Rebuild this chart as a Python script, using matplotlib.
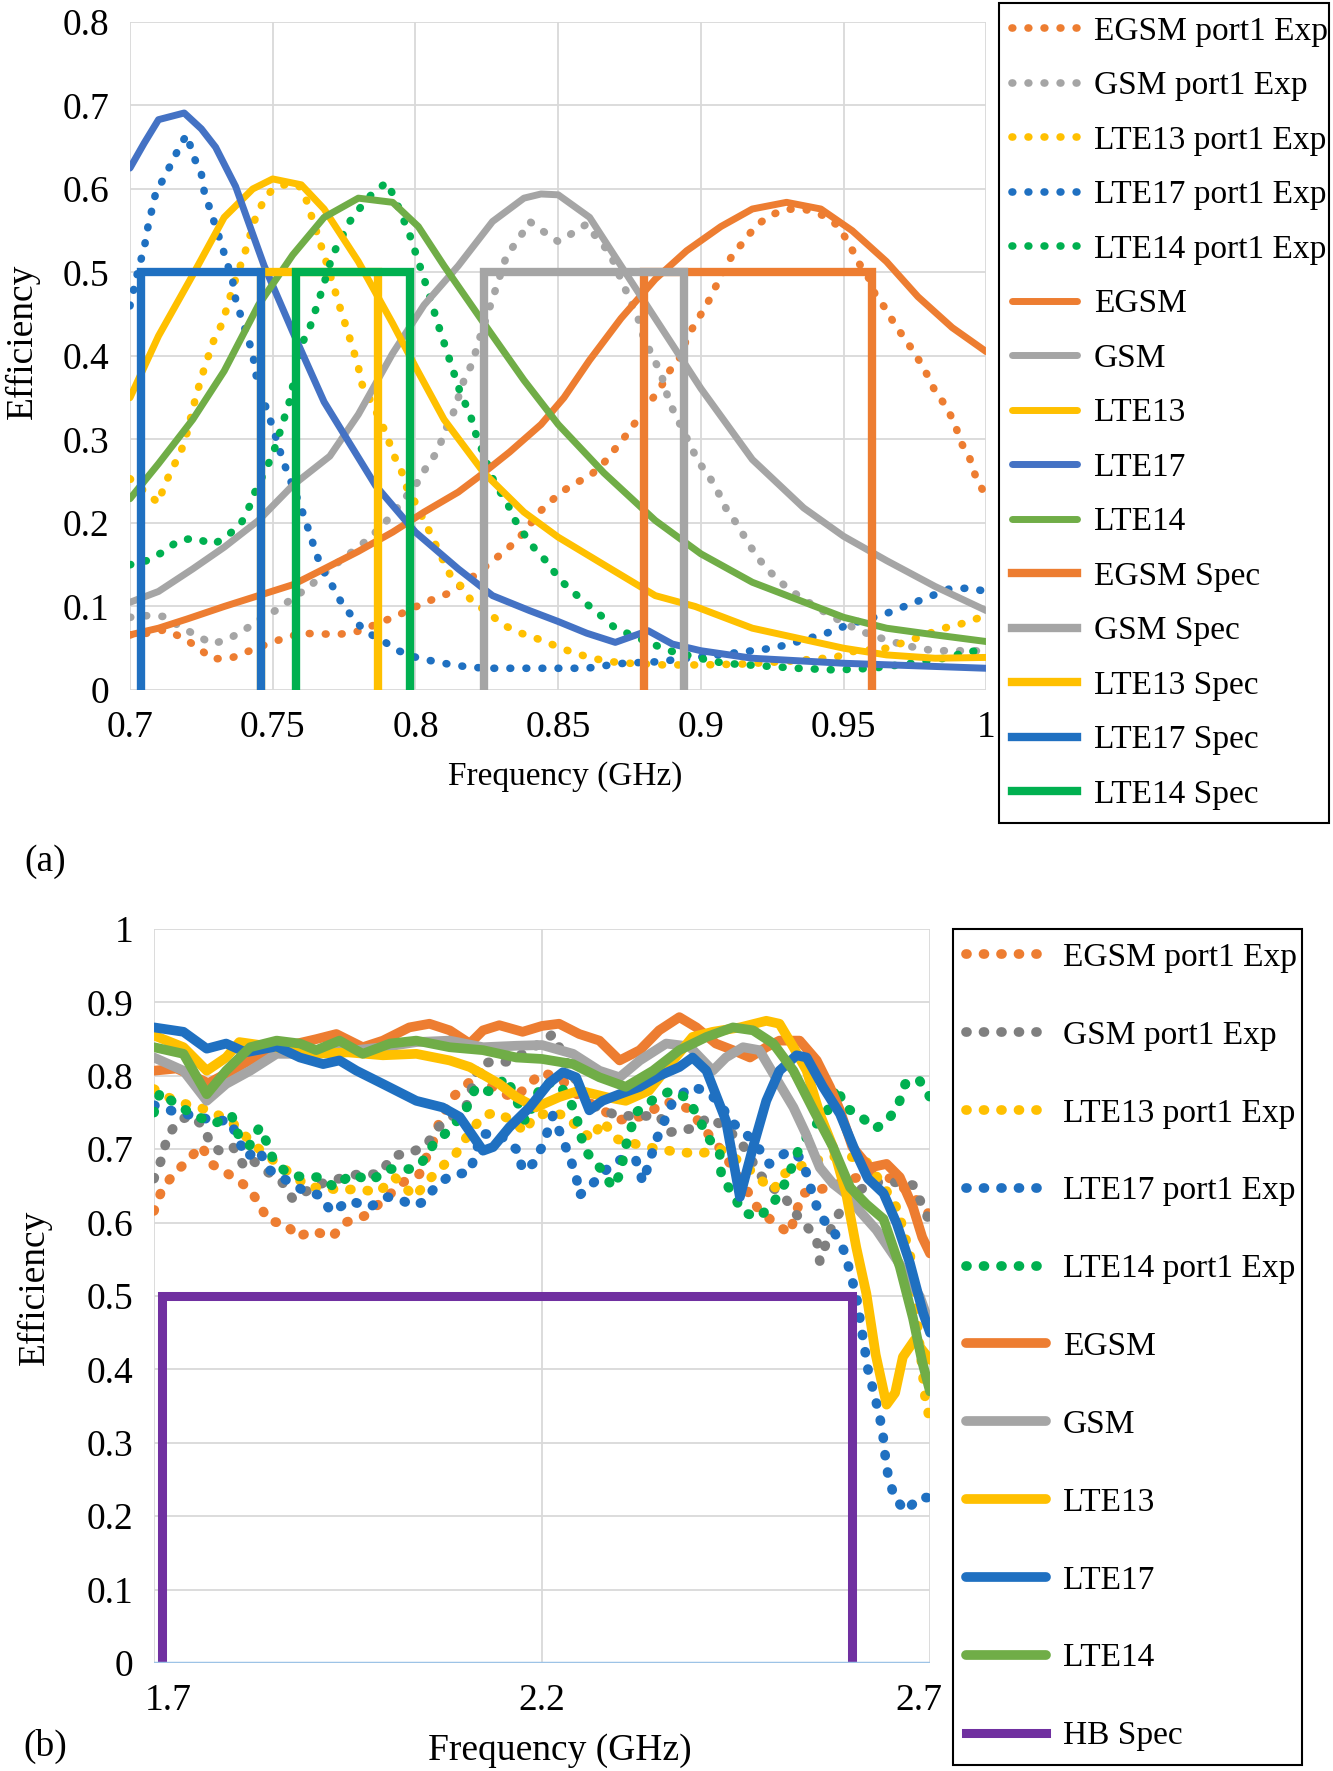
import numpy as np
import matplotlib
matplotlib.use('Agg')
import matplotlib.pyplot as plt
from matplotlib.transforms import ScaledTranslation

plt.rcParams['font.family'] = ['Liberation Serif', 'DejaVu Serif']

# ---------------- (a) low band, 0.7 - 1 GHz ----------------
egsm_exp_a = [(0.700, 0.066), (0.706, 0.068), (0.712, 0.072), (0.719, 0.062), (0.724, 0.050), (0.729, 0.037),
              (0.736, 0.039), (0.742, 0.047), (0.748, 0.055), (0.754, 0.062), (0.760, 0.068), (0.767, 0.067),
              (0.774, 0.067), (0.781, 0.071), (0.787, 0.080), (0.793, 0.088), (0.799, 0.098), (0.805, 0.107),
              (0.811, 0.115), (0.816, 0.125), (0.821, 0.138), (0.826, 0.152), (0.832, 0.168), (0.837, 0.185),
              (0.844, 0.215), (0.850, 0.234), (0.855, 0.246), (0.861, 0.256), (0.866, 0.272), (0.870, 0.289),
              (0.874, 0.306), (0.878, 0.325), (0.882, 0.344), (0.886, 0.363), (0.889, 0.382), (0.893, 0.400),
              (0.895, 0.421), (0.898, 0.439), (0.902, 0.461), (0.905, 0.482), (0.911, 0.521), (0.915, 0.537),
              (0.919, 0.555), (0.924, 0.568), (0.930, 0.576), (0.937, 0.575), (0.943, 0.568), (0.948, 0.556),
              (0.952, 0.534), (0.955, 0.513), (0.959, 0.492), (0.961, 0.474), (0.965, 0.455), (0.968, 0.437),
              (0.972, 0.418), (0.976, 0.397), (0.979, 0.379), (0.982, 0.358), (0.986, 0.339), (0.989, 0.318),
              (0.991, 0.297), (0.994, 0.279), (0.996, 0.258), (0.999, 0.237)]
gsm_exp_a = [(0.700, 0.087), (0.706, 0.089), (0.712, 0.088), (0.718, 0.075), (0.723, 0.066), (0.729, 0.055),
             (0.735, 0.062), (0.741, 0.074), (0.746, 0.086), (0.752, 0.097), (0.757, 0.110), (0.763, 0.124),
             (0.768, 0.140), (0.773, 0.153), (0.778, 0.166), (0.784, 0.182), (0.790, 0.203), (0.795, 0.224),
             (0.801, 0.250), (0.804, 0.268), (0.808, 0.287), (0.810, 0.308), (0.813, 0.329), (0.817, 0.371),
             (0.820, 0.392), (0.822, 0.416), (0.826, 0.458), (0.828, 0.479), (0.832, 0.521), (0.836, 0.539),
             (0.840, 0.561), (0.844, 0.551), (0.850, 0.537), (0.854, 0.545), (0.860, 0.558), (0.864, 0.539),
             (0.868, 0.524), (0.873, 0.484), (0.878, 0.445), (0.880, 0.421), (0.883, 0.400), (0.886, 0.379),
             (0.888, 0.355), (0.890, 0.337), (0.893, 0.316), (0.896, 0.295), (0.899, 0.274), (0.903, 0.255),
             (0.906, 0.237), (0.909, 0.216), (0.913, 0.197), (0.916, 0.179), (0.920, 0.158), (0.924, 0.142),
             (0.929, 0.126), (0.934, 0.113), (0.940, 0.100), (0.946, 0.088), (0.952, 0.077), (0.958, 0.068),
             (0.964, 0.061), (0.970, 0.055), (0.976, 0.050), (0.982, 0.047), (0.989, 0.047), (0.996, 0.047),
             (1.000, 0.046)]
lte13_exp_a = [(0.700, 0.253), (0.705, 0.238), (0.710, 0.224), (0.712, 0.245), (0.715, 0.266), (0.718, 0.287),
               (0.720, 0.308), (0.723, 0.350), (0.725, 0.374), (0.727, 0.395), (0.729, 0.416), (0.732, 0.437),
               (0.734, 0.458), (0.736, 0.482), (0.740, 0.521), (0.744, 0.566), (0.747, 0.587), (0.750, 0.600),
               (0.755, 0.606), (0.759, 0.605), (0.762, 0.585), (0.764, 0.563), (0.768, 0.521), (0.772, 0.476),
               (0.774, 0.453), (0.776, 0.432), (0.778, 0.410), (0.780, 0.387), (0.781, 0.368), (0.786, 0.335),
               (0.790, 0.305), (0.792, 0.284), (0.795, 0.263), (0.797, 0.242), (0.800, 0.224), (0.803, 0.203),
               (0.806, 0.182), (0.809, 0.160), (0.812, 0.139), (0.816, 0.124), (0.820, 0.105), (0.826, 0.092),
               (0.830, 0.079), (0.837, 0.068), (0.843, 0.061), (0.849, 0.053), (0.855, 0.045), (0.862, 0.038),
               (0.868, 0.034), (0.875, 0.032), (0.887, 0.030), (0.900, 0.030), (0.914, 0.031), (0.929, 0.034),
               (0.947, 0.039), (0.953, 0.046), (0.965, 0.050), (0.972, 0.058), (0.985, 0.074), (0.991, 0.079),
               (0.998, 0.087)]
lte17_exp_a = [(0.700, 0.460), (0.703, 0.505), (0.705, 0.529), (0.706, 0.550), (0.709, 0.595), (0.712, 0.614),
               (0.715, 0.634), (0.718, 0.655), (0.720, 0.665), (0.722, 0.641), (0.725, 0.618), (0.726, 0.597),
               (0.728, 0.576), (0.732, 0.534), (0.736, 0.489), (0.737, 0.468), (0.739, 0.446), (0.743, 0.403),
               (0.744, 0.379), (0.748, 0.334), (0.750, 0.315), (0.752, 0.292), (0.754, 0.271), (0.756, 0.253),
               (0.761, 0.208), (0.763, 0.187), (0.765, 0.166), (0.767, 0.147), (0.771, 0.124), (0.774, 0.105),
               (0.778, 0.087), (0.782, 0.071), (0.789, 0.058), (0.794, 0.047), (0.801, 0.038), (0.807, 0.034),
               (0.813, 0.030), (0.820, 0.027), (0.827, 0.026), (0.840, 0.026), (0.853, 0.026), (0.860, 0.026),
               (0.866, 0.029), (0.873, 0.032), (0.886, 0.034), (0.892, 0.037), (0.899, 0.039), (0.918, 0.047),
               (0.925, 0.050), (0.931, 0.055), (0.944, 0.068), (0.950, 0.076), (0.957, 0.084), (0.963, 0.089),
               (0.969, 0.097), (0.975, 0.105), (0.981, 0.113), (0.987, 0.121), (0.994, 0.122), (1.000, 0.118)]
lte14_exp_a = [(0.700, 0.150), (0.706, 0.155), (0.712, 0.166), (0.717, 0.179), (0.723, 0.182), (0.729, 0.174),
               (0.734, 0.184), (0.739, 0.200), (0.742, 0.221), (0.744, 0.239), (0.747, 0.260), (0.750, 0.282),
               (0.752, 0.303), (0.756, 0.347), (0.760, 0.413), (0.763, 0.434), (0.765, 0.455), (0.767, 0.476),
               (0.771, 0.521), (0.777, 0.561), (0.781, 0.579), (0.785, 0.595), (0.790, 0.608), (0.793, 0.587),
               (0.798, 0.545), (0.800, 0.524), (0.802, 0.503), (0.804, 0.482), (0.808, 0.437), (0.810, 0.416),
               (0.812, 0.395), (0.814, 0.374), (0.816, 0.353), (0.819, 0.332), (0.821, 0.308), (0.828, 0.245),
               (0.832, 0.226), (0.834, 0.208), (0.838, 0.187), (0.842, 0.168), (0.847, 0.150), (0.850, 0.134),
               (0.855, 0.118), (0.860, 0.103), (0.865, 0.089), (0.870, 0.074), (0.883, 0.055), (0.889, 0.047),
               (0.901, 0.037), (0.908, 0.032), (0.921, 0.029), (0.934, 0.026), (0.947, 0.024), (0.960, 0.026),
               (0.974, 0.032), (0.987, 0.039), (0.993, 0.046), (1.000, 0.047)]

egsm_a = [(0.700, 0.066), (0.710, 0.074), (0.720, 0.085), (0.733, 0.100), (0.745, 0.113), (0.757, 0.126),
          (0.768, 0.145), (0.780, 0.166), (0.792, 0.189), (0.803, 0.213), (0.815, 0.237), (0.822, 0.255),
          (0.833, 0.285), (0.844, 0.318), (0.852, 0.350), (0.861, 0.395), (0.872, 0.445), (0.884, 0.492),
          (0.895, 0.526), (0.907, 0.555), (0.918, 0.576), (0.930, 0.584), (0.942, 0.576), (0.953, 0.550),
          (0.965, 0.513), (0.976, 0.471), (0.988, 0.434), (1.000, 0.405)]
gsm_a = [(0.700, 0.105), (0.710, 0.118), (0.722, 0.145), (0.733, 0.171), (0.745, 0.203), (0.757, 0.245),
         (0.770, 0.280), (0.780, 0.330), (0.792, 0.403), (0.803, 0.461), (0.815, 0.508), (0.827, 0.561),
         (0.838, 0.589), (0.844, 0.594), (0.850, 0.593), (0.861, 0.566), (0.872, 0.508), (0.884, 0.445),
         (0.900, 0.361), (0.918, 0.276), (0.936, 0.218), (0.950, 0.184), (0.965, 0.155), (0.982, 0.124),
         (1.000, 0.095)]
lte13_a = [(0.700, 0.350), (0.710, 0.424), (0.722, 0.497), (0.733, 0.566), (0.743, 0.600), (0.750, 0.612),
           (0.760, 0.605), (0.768, 0.576), (0.780, 0.513), (0.792, 0.439), (0.800, 0.387), (0.810, 0.324),
           (0.824, 0.260), (0.838, 0.213), (0.850, 0.183), (0.866, 0.150), (0.884, 0.113), (0.898, 0.100),
           (0.918, 0.074), (0.950, 0.050), (0.965, 0.042), (0.982, 0.038), (1.000, 0.039)]
lte17_a = [(0.700, 0.625), (0.705, 0.655), (0.710, 0.683), (0.719, 0.691), (0.725, 0.672), (0.730, 0.650),
           (0.737, 0.603), (0.747, 0.508), (0.757, 0.429), (0.768, 0.345), (0.786, 0.245), (0.800, 0.189),
           (0.815, 0.145), (0.827, 0.113), (0.840, 0.095), (0.850, 0.082), (0.860, 0.068), (0.870, 0.057),
           (0.8815, 0.071), (0.890, 0.055), (0.900, 0.047), (0.918, 0.038), (0.950, 0.032), (1.000, 0.026)]
lte14_a = [(0.700, 0.229), (0.710, 0.271), (0.722, 0.324), (0.733, 0.382), (0.745, 0.461), (0.757, 0.521),
           (0.768, 0.566), (0.780, 0.589), (0.792, 0.584), (0.801, 0.555), (0.810, 0.508), (0.824, 0.439),
           (0.838, 0.371), (0.850, 0.318), (0.866, 0.260), (0.884, 0.203), (0.900, 0.163), (0.918, 0.129),
           (0.950, 0.087), (0.965, 0.074), (0.982, 0.066), (1.000, 0.058)]

spec_level = 0.5
spec_names_a = ['EGSM Spec', 'GSM Spec', 'LTE13 Spec', 'LTE17 Spec', 'LTE14 Spec']
spec_bands_a = [(0.880, 0.960), (0.824, 0.894), (0.746, 0.787), (0.704, 0.746), (0.758, 0.798)]

xticks_a = [0.7, 0.75, 0.8, 0.85, 0.9, 0.95, 1.0]
xlabels_a = ['0.7', '0.75', '0.8', '0.85', '0.9', '0.95', '1']
yticks_a = [0, 0.1, 0.2, 0.3, 0.4, 0.5, 0.6, 0.7, 0.8]
ylabels_a = ['0', '0.1', '0.2', '0.3', '0.4', '0.5', '0.6', '0.7', '0.8']

# ---------------- (b) high band, 1.7 - 2.7 GHz ----------------
egsm_exp_b = [(1.700, 0.616), (1.710, 0.644), (1.725, 0.666), (1.744, 0.685), (1.761, 0.705), (1.774, 0.680),
              (1.790, 0.670), (1.805, 0.660), (1.823, 0.646), (1.836, 0.625), (1.847, 0.603), (1.860, 0.600),
              (1.871, 0.598), (1.884, 0.580), (1.905, 0.589), (1.929, 0.580), (1.946, 0.600), (1.971, 0.609),
              (1.995, 0.630), (2.021, 0.655), (2.042, 0.666), (2.051, 0.689), (2.062, 0.716), (2.068, 0.739),
              (2.085, 0.771), (2.105, 0.790), (2.120, 0.805), (2.140, 0.780), (2.165, 0.770), (2.185, 0.790),
              (2.200, 0.805), (2.225, 0.795), (2.250, 0.770), (2.275, 0.755), (2.300, 0.740), (2.330, 0.745),
              (2.360, 0.765), (2.390, 0.755), (2.407, 0.730), (2.430, 0.700), (2.455, 0.660), (2.480, 0.616),
              (2.502, 0.598), (2.519, 0.585), (2.528, 0.616), (2.536, 0.640), (2.554, 0.644), (2.575, 0.650),
              (2.600, 0.660), (2.625, 0.665), (2.650, 0.660), (2.675, 0.640), (2.700, 0.610)]
gsm_exp_b = [(1.700, 0.660), (1.710, 0.687), (1.717, 0.716), (1.731, 0.739), (1.748, 0.746), (1.763, 0.732),
             (1.774, 0.705), (1.787, 0.696), (1.802, 0.703), (1.817, 0.675), (1.828, 0.684), (1.845, 0.670),
             (1.864, 0.657), (1.879, 0.632), (1.900, 0.645), (1.920, 0.655), (1.939, 0.660), (1.963, 0.666),
             (1.991, 0.666), (2.008, 0.691), (2.030, 0.695), (2.051, 0.705), (2.064, 0.728), (2.085, 0.745),
             (2.102, 0.757), (2.110, 0.785), (2.119, 0.816), (2.140, 0.820), (2.156, 0.819), (2.175, 0.830),
             (2.203, 0.848), (2.214, 0.857), (2.240, 0.800), (2.265, 0.760), (2.296, 0.746), (2.325, 0.745),
             (2.351, 0.746), (2.364, 0.723), (2.392, 0.728), (2.416, 0.744), (2.435, 0.730), (2.455, 0.712),
             (2.482, 0.664), (2.497, 0.648), (2.515, 0.631), (2.527, 0.612), (2.545, 0.590), (2.554, 0.576),
             (2.558, 0.547), (2.575, 0.600), (2.600, 0.640), (2.630, 0.655), (2.660, 0.655), (2.678, 0.651),
             (2.689, 0.626), (2.700, 0.600)]
lte13_exp_b = [(1.700, 0.782), (1.720, 0.770), (1.745, 0.760), (1.772, 0.753), (1.802, 0.735), (1.830, 0.705),
               (1.862, 0.678), (1.900, 0.648), (1.920, 0.648), (1.939, 0.644), (1.963, 0.646), (1.989, 0.641),
               (2.010, 0.662), (2.036, 0.635), (2.051, 0.655), (2.070, 0.675), (2.089, 0.694), (2.105, 0.720),
               (2.124, 0.746), (2.141, 0.750), (2.160, 0.740), (2.179, 0.723), (2.188, 0.744), (2.210, 0.750),
               (2.231, 0.746), (2.250, 0.725), (2.265, 0.714), (2.278, 0.739), (2.296, 0.714), (2.321, 0.707),
               (2.350, 0.700), (2.377, 0.696), (2.403, 0.694), (2.430, 0.700), (2.460, 0.680), (2.480, 0.660),
               (2.498, 0.644), (2.511, 0.666), (2.540, 0.680), (2.570, 0.690), (2.614, 0.689), (2.640, 0.650),
               (2.660, 0.615), (2.665, 0.590), (2.674, 0.560), (2.685, 0.450), (2.694, 0.358), (2.700, 0.330)]
lte17_exp_b = [(1.700, 0.760), (1.730, 0.750), (1.755, 0.745), (1.776, 0.739), (1.798, 0.739), (1.819, 0.689),
               (1.835, 0.700), (1.847, 0.673), (1.875, 0.655), (1.892, 0.644), (1.914, 0.637), (1.929, 0.614),
               (1.952, 0.630), (1.978, 0.621), (2.000, 0.635), (2.016, 0.632), (2.034, 0.623), (2.047, 0.628),
               (2.062, 0.648), (2.081, 0.664), (2.107, 0.669), (2.122, 0.721), (2.145, 0.720), (2.169, 0.698),
               (2.175, 0.671), (2.188, 0.680), (2.201, 0.705), (2.214, 0.746), (2.225, 0.718), (2.235, 0.691),
               (2.244, 0.664), (2.248, 0.637), (2.262, 0.650), (2.274, 0.662), (2.290, 0.680), (2.308, 0.689),
               (2.321, 0.685), (2.330, 0.655), (2.339, 0.685), (2.347, 0.712), (2.358, 0.739), (2.369, 0.766),
               (2.392, 0.785), (2.410, 0.780), (2.429, 0.764), (2.442, 0.739), (2.463, 0.721), (2.480, 0.700),
               (2.493, 0.680), (2.518, 0.698), (2.532, 0.689), (2.543, 0.662), (2.549, 0.635), (2.560, 0.607),
               (2.575, 0.590), (2.590, 0.560), (2.605, 0.500), (2.620, 0.400), (2.634, 0.341), (2.639, 0.314),
               (2.642, 0.284), (2.646, 0.255), (2.654, 0.226), (2.668, 0.207), (2.687, 0.226), (2.700, 0.225)]
lte14_exp_b = [(1.700, 0.750), (1.708, 0.778), (1.730, 0.760), (1.755, 0.745), (1.778, 0.735), (1.800, 0.746),
               (1.810, 0.716), (1.823, 0.705), (1.836, 0.730), (1.845, 0.710), (1.854, 0.685), (1.873, 0.666),
               (1.892, 0.662), (1.914, 0.662), (1.933, 0.648), (1.954, 0.666), (1.980, 0.657), (2.001, 0.673),
               (2.021, 0.673), (2.034, 0.673), (2.044, 0.680), (2.059, 0.705), (2.079, 0.725), (2.100, 0.750),
               (2.115, 0.785), (2.134, 0.778), (2.154, 0.798), (2.170, 0.760), (2.179, 0.737), (2.200, 0.790),
               (2.222, 0.790), (2.244, 0.750), (2.248, 0.723), (2.259, 0.694), (2.276, 0.673), (2.291, 0.648),
               (2.302, 0.669), (2.306, 0.698), (2.321, 0.750), (2.345, 0.769), (2.367, 0.780), (2.388, 0.769),
               (2.401, 0.744), (2.414, 0.716), (2.429, 0.694), (2.431, 0.664), (2.445, 0.640), (2.459, 0.614),
               (2.480, 0.607), (2.500, 0.630), (2.515, 0.657), (2.532, 0.703), (2.550, 0.730), (2.567, 0.750),
               (2.580, 0.785), (2.590, 0.757), (2.607, 0.748), (2.629, 0.728), (2.644, 0.737), (2.659, 0.760),
               (2.668, 0.789), (2.685, 0.796), (2.700, 0.771)]

egsm_b = [(1.700, 0.807), (1.729, 0.810), (1.750, 0.800), (1.770, 0.790), (1.800, 0.807), (1.823, 0.821),
          (1.860, 0.838), (1.909, 0.850), (1.935, 0.857), (1.969, 0.839), (1.995, 0.848), (2.029, 0.866),
          (2.055, 0.871), (2.081, 0.862), (2.107, 0.844), (2.124, 0.862), (2.145, 0.869), (2.175, 0.860),
          (2.200, 0.868), (2.222, 0.871), (2.248, 0.857), (2.274, 0.848), (2.300, 0.821), (2.326, 0.835),
          (2.351, 0.862), (2.377, 0.880), (2.399, 0.866), (2.424, 0.844), (2.446, 0.835), (2.468, 0.825),
          (2.489, 0.839), (2.506, 0.848), (2.532, 0.848), (2.554, 0.821), (2.571, 0.785), (2.584, 0.753),
          (2.600, 0.703), (2.622, 0.675), (2.644, 0.680), (2.661, 0.662), (2.678, 0.621), (2.690, 0.580),
          (2.700, 0.558)]
gsm_b = [(1.700, 0.825), (1.738, 0.807), (1.768, 0.766), (1.793, 0.789), (1.824, 0.807), (1.858, 0.830),
         (1.888, 0.830), (1.918, 0.835), (1.960, 0.835), (1.995, 0.839), (2.038, 0.846), (2.081, 0.848),
         (2.124, 0.839), (2.167, 0.841), (2.200, 0.842), (2.240, 0.830), (2.274, 0.807), (2.300, 0.798),
         (2.326, 0.821), (2.360, 0.844), (2.390, 0.840), (2.420, 0.807), (2.437, 0.825), (2.459, 0.839),
         (2.480, 0.835), (2.498, 0.803), (2.524, 0.757), (2.540, 0.721), (2.558, 0.675), (2.575, 0.653),
         (2.592, 0.639), (2.610, 0.615), (2.631, 0.590), (2.660, 0.545), (2.687, 0.499), (2.700, 0.460)]
lte13_b = [(1.700, 0.855), (1.738, 0.839), (1.768, 0.807), (1.793, 0.825), (1.810, 0.846), (1.850, 0.840),
           (1.909, 0.830), (1.950, 0.832), (1.995, 0.828), (2.038, 0.830), (2.081, 0.821), (2.107, 0.812),
           (2.145, 0.789), (2.167, 0.771), (2.192, 0.757), (2.222, 0.771), (2.248, 0.780), (2.283, 0.771),
           (2.308, 0.766), (2.338, 0.780), (2.369, 0.821), (2.394, 0.853), (2.420, 0.860), (2.455, 0.866),
           (2.489, 0.875), (2.506, 0.871), (2.524, 0.839), (2.541, 0.807), (2.558, 0.748), (2.575, 0.703),
           (2.592, 0.639), (2.605, 0.566), (2.618, 0.503), (2.630, 0.420), (2.644, 0.352), (2.655, 0.368),
           (2.665, 0.417), (2.680, 0.440), (2.700, 0.413)]
lte17_b = [(1.700, 0.866), (1.738, 0.860), (1.768, 0.837), (1.793, 0.844), (1.818, 0.832), (1.858, 0.840),
           (1.888, 0.825), (1.918, 0.816), (1.939, 0.821), (1.961, 0.807), (1.995, 0.789), (2.038, 0.766),
           (2.072, 0.757), (2.094, 0.744), (2.124, 0.698), (2.137, 0.703), (2.158, 0.730), (2.184, 0.757),
           (2.209, 0.790), (2.227, 0.805), (2.244, 0.798), (2.261, 0.753), (2.278, 0.766), (2.300, 0.775),
           (2.326, 0.785), (2.351, 0.800), (2.377, 0.812), (2.394, 0.825), (2.412, 0.807), (2.437, 0.739),
           (2.455, 0.635), (2.472, 0.703), (2.489, 0.766), (2.506, 0.807), (2.528, 0.828), (2.541, 0.825),
           (2.562, 0.785), (2.584, 0.748), (2.605, 0.694), (2.620, 0.660), (2.640, 0.640), (2.657, 0.599),
           (2.674, 0.545), (2.691, 0.477), (2.700, 0.450)]
lte14_b = [(1.700, 0.839), (1.738, 0.830), (1.768, 0.775), (1.793, 0.807), (1.824, 0.839), (1.858, 0.848),
           (1.888, 0.844), (1.909, 0.835), (1.939, 0.848), (1.969, 0.830), (2.004, 0.844), (2.038, 0.848),
           (2.081, 0.839), (2.124, 0.835), (2.167, 0.825), (2.200, 0.823), (2.240, 0.816), (2.274, 0.798),
           (2.308, 0.785), (2.343, 0.807), (2.377, 0.835), (2.412, 0.853), (2.446, 0.866), (2.472, 0.862),
           (2.498, 0.844), (2.524, 0.807), (2.550, 0.753), (2.575, 0.703), (2.597, 0.648), (2.618, 0.625),
           (2.640, 0.605), (2.661, 0.540), (2.678, 0.470), (2.690, 0.410), (2.700, 0.370)]

hb_band = (1.71, 2.60)

xticks_b = [1.7, 2.2, 2.7]
xlabels_b = ['1.7', '2.2', '2.7']
yticks_b = [0, 0.1, 0.2, 0.3, 0.4, 0.5, 0.6, 0.7, 0.8, 0.9, 1.0]
ylabels_b = ['0', '0.1', '0.2', '0.3', '0.4', '0.5', '0.6', '0.7', '0.8', '0.9', '1']

# colours (Excel palette)
ORANGE = '#ED7D31'
GRAY = '#A5A5A5'
DGRAY = '#7F7F7F'
GOLD = '#FFC000'
BLUE = '#4472C4'
DBLUE = '#1F70C1'
GREEN = '#70AD47'
BGREEN = '#00B050'
PURPLE = '#7030A0'
GRID = '#D9D9D9'


def xy(points):
    x, y = zip(*points)
    return np.array(x), np.array(y)


def spec_path(lo, hi):
    return [lo, lo, hi, hi], [0, spec_level, spec_level, 0]


fig = plt.figure(figsize=(13.33, 17.71), dpi=100)
ax1 = fig.add_axes([0.0975, 0.6104, 0.6425, 0.3772])
ax2 = fig.add_axes([0.1155, 0.0610, 0.5822, 0.4144])

# ---- panel (a)
dot_a = dict(lw=5.5, linestyle=(0, (0.1, 2.0)), dash_capstyle='round')
sol_a = dict(lw=5, solid_capstyle='round', solid_joinstyle='round')
for pts, col, lab in [(egsm_exp_a, ORANGE, 'EGSM port1 Exp'), (gsm_exp_a, GRAY, 'GSM port1 Exp'),
                      (lte13_exp_a, GOLD, 'LTE13 port1 Exp'), (lte17_exp_a, DBLUE, 'LTE17 port1 Exp'),
                      (lte14_exp_a, BGREEN, 'LTE14 port1 Exp')]:
    ax1.plot(*xy(pts), color=col, label=lab, **dot_a)
for pts, col, lab in [(egsm_a, ORANGE, 'EGSM'), (gsm_a, GRAY, 'GSM'), (lte13_a, GOLD, 'LTE13'),
                      (lte17_a, BLUE, 'LTE17'), (lte14_a, GREEN, 'LTE14')]:
    ax1.plot(*xy(pts), color=col, label=lab, **sol_a)
for (lo, hi), col, lab in zip(spec_bands_a, [ORANGE, GRAY, GOLD, DBLUE, BGREEN], spec_names_a):
    ax1.plot(*spec_path(lo, hi), color=col, lw=6, label=lab, solid_joinstyle='miter')

ax1.set_xlim(0.7, 1.0)
ax1.set_ylim(0, 0.8)
ax1.set_xticks(xticks_a, xlabels_a)
ax1.set_yticks(yticks_a, ylabels_a)

# ---- panel (b)
dot_b = dict(lw=7, linestyle=(0, (0.1, 1.7)), dash_capstyle='round')
sol_b = dict(lw=7, solid_capstyle='round', solid_joinstyle='round')
for pts, col, lab in [(egsm_exp_b, ORANGE, 'EGSM port1 Exp'), (gsm_exp_b, DGRAY, 'GSM port1 Exp'),
                      (lte13_exp_b, GOLD, 'LTE13 port1 Exp'), (lte17_exp_b, DBLUE, 'LTE17 port1 Exp'),
                      (lte14_exp_b, BGREEN, 'LTE14 port1 Exp')]:
    ax2.plot(*xy(pts), color=col, label=lab, **dot_b)
for pts, col, lab in [(egsm_b, ORANGE, 'EGSM'), (gsm_b, GRAY, 'GSM'), (lte13_b, GOLD, 'LTE13'),
                      (lte17_b, DBLUE, 'LTE17'), (lte14_b, GREEN, 'LTE14')]:
    ax2.plot(*xy(pts), color=col, label=lab, **sol_b)
ax2.plot(*spec_path(*hb_band), color=PURPLE, lw=6.5, label='HB Spec', solid_joinstyle='miter')
ax2.axhline(0, color='#9DC3E6', lw=2.5, zorder=5)

ax2.set_xlim(1.7, 2.7)
ax2.set_ylim(0, 1.0)
ax2.set_xticks(xticks_b, xlabels_b)
ax2.set_yticks(yticks_b, ylabels_b)

for ax in (ax1, ax2):
    for s in ax.spines.values():
        s.set_visible(False)
    ax.grid(True, color=GRID, lw=1.3)
    ax.set_axisbelow(True)
    ax.tick_params(length=0, labelsize=27, pad=15)

# the end labels of panel (b) sit a little inside the axis ends
xl = ax2.get_xticklabels()
xl[0].set_transform(xl[0].get_transform() + ScaledTranslation(0.14, 0, fig.dpi_scale_trans))
xl[-1].set_transform(xl[-1].get_transform() + ScaledTranslation(-0.11, 0, fig.dpi_scale_trans))

# axis titles and panel tags
fig.text(0.424, 0.5613, 'Frequency (GHz)', ha='center', va='center', fontsize=24)
fig.text(0.017, 0.807, 'Efficiency', ha='center', va='center', rotation=90, fontsize=27)
fig.text(0.42, 0.0113, 'Frequency (GHz)', ha='center', va='center', fontsize=27)
fig.text(0.0255, 0.2733, 'Efficiency', ha='center', va='center', rotation=90, fontsize=27)
fig.text(0.0338, 0.5133, '(a)', ha='center', va='center', fontsize=27)
fig.text(0.0338, 0.0141, '(b)', ha='center', va='center', fontsize=27)

leg_kw = dict(loc='upper left', mode='expand', borderaxespad=0, fancybox=False,
              edgecolor='black', fontsize=24, handletextpad=0.5, borderpad=0.4)
h1, l1 = ax1.get_legend_handles_labels()
leg1 = fig.legend(h1, l1, bbox_to_anchor=(0.7494, 0.9983, 0.2476, 0.0), labelspacing=0.72,
                  handlelength=1.95, **leg_kw)
h2, l2 = ax2.get_legend_handles_labels()
leg2 = fig.legend(h2, l2, bbox_to_anchor=(0.715, 0.4754, 0.2617, 0.0), labelspacing=1.42,
                  handlelength=2.4, **leg_kw)
for leg in (leg1, leg2):
    leg.get_frame().set_linewidth(1.5)
    leg.get_frame().set_alpha(1)

fig.savefig('out.png', dpi=100)
